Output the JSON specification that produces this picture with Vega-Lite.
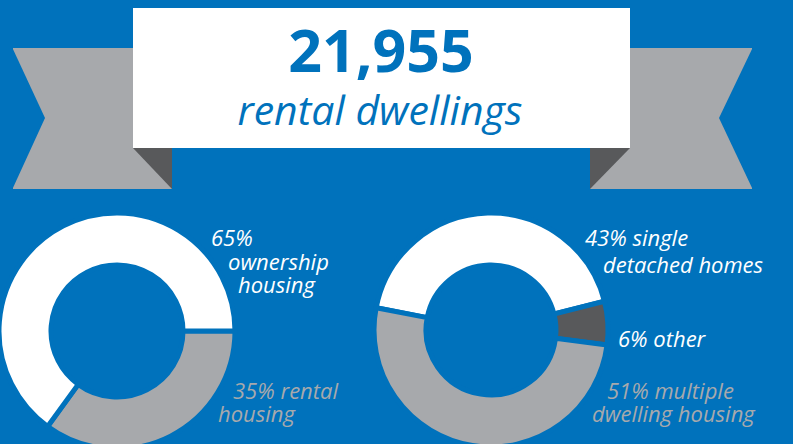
{
  "$schema": "https://vega.github.io/schema/vega-lite/v6.json",
  "width": 793,
  "height": 444,
  "autosize": {"type": "none"},
  "padding": 0,
  "background": "#0072BC",
  "config": {"view": {"stroke": null}, "axis": {"disable": true}},
  "resolve": {"scale": {"theta": "independent", "color": "independent"}},
  "layer": [
    {
      "data": {"values": [
        {"side": "left", "x": 13, "x2": 172, "y": 48, "y2": 189},
        {"side": "right", "x": 590, "x2": 752, "y": 48, "y2": 189}
      ]},
      "mark": {"type": "rect", "color": "#A7A9AC"},
      "encoding": {
        "x": {"field": "x", "type": "quantitative", "scale": {"domain": [0, 793], "nice": false, "zero": false}, "axis": null},
        "x2": {"field": "x2"},
        "y": {"field": "y", "type": "quantitative", "scale": {"domain": [444, 0], "nice": false, "zero": false}, "axis": null},
        "y2": {"field": "y2"}
      }
    },
    {
      "data": {"values": [
        {"shape": "notchL", "x": 12, "y": 47, "y2": 190},
        {"shape": "notchL", "x": 45, "y": 118, "y2": 118},
        {"shape": "notchR", "x": 719, "y": 118, "y2": 118},
        {"shape": "notchR", "x": 753, "y": 47, "y2": 190}
      ]},
      "mark": {"type": "area", "color": "#0072BC", "opacity": 1},
      "encoding": {
        "x": {"field": "x", "type": "quantitative", "scale": {"domain": [0, 793], "nice": false, "zero": false}, "axis": null},
        "y": {"field": "y", "type": "quantitative", "scale": {"domain": [444, 0], "nice": false, "zero": false}, "axis": null},
        "y2": {"field": "y2"},
        "detail": {"field": "shape"}
      }
    },
    {
      "data": {"values": [
        {"shape": "foldL", "x": 133, "y": 148, "y2": 148},
        {"shape": "foldL", "x": 172, "y": 148, "y2": 189},
        {"shape": "foldR", "x": 590, "y": 148, "y2": 189},
        {"shape": "foldR", "x": 630, "y": 148, "y2": 148}
      ]},
      "mark": {"type": "area", "color": "#58595B", "opacity": 1},
      "encoding": {
        "x": {"field": "x", "type": "quantitative", "scale": {"domain": [0, 793], "nice": false, "zero": false}, "axis": null},
        "y": {"field": "y", "type": "quantitative", "scale": {"domain": [444, 0], "nice": false, "zero": false}, "axis": null},
        "y2": {"field": "y2"},
        "detail": {"field": "shape"}
      }
    },
    {
      "data": {"values": [{"x": 133, "x2": 630, "y": 8, "y2": 148}]},
      "mark": {"type": "rect", "color": "#FFFFFF"},
      "encoding": {
        "x": {"field": "x", "type": "quantitative", "scale": {"domain": [0, 793], "nice": false, "zero": false}, "axis": null},
        "x2": {"field": "x2"},
        "y": {"field": "y", "type": "quantitative", "scale": {"domain": [444, 0], "nice": false, "zero": false}, "axis": null},
        "y2": {"field": "y2"}
      }
    },
    {
      "data": {"values": [
        {"segment": "rental housing", "pct": 35, "k": 1},
        {"segment": "ownership housing", "pct": 65, "k": 2}
      ]},
      "mark": {"type": "arc", "outerRadius": 118, "innerRadius": 66, "stroke": "#0072BC", "strokeWidth": 5},
      "encoding": {
        "theta": {"field": "pct", "type": "quantitative", "stack": true, "scale": {"domain": [0, 100], "range": [1.5708, 7.8540]}},
        "order": {"field": "k", "type": "quantitative"},
        "color": {"field": "segment", "type": "nominal", "legend": null, "scale": {"domain": ["rental housing", "ownership housing"], "range": ["#A7A9AC", "#FFFFFF"]}},
        "x": {"datum": 117, "type": "quantitative", "scale": {"domain": [0, 793], "nice": false, "zero": false}, "axis": null},
        "y": {"datum": 331, "type": "quantitative", "scale": {"domain": [444, 0], "nice": false, "zero": false}, "axis": null}
      }
    },
    {
      "data": {"values": [
        {"segment": "single detached homes", "pct": 43, "k": 1},
        {"segment": "other", "pct": 6, "k": 2},
        {"segment": "multiple dwelling housing", "pct": 51, "k": 3}
      ]},
      "mark": {"type": "arc", "outerRadius": 117, "innerRadius": 65, "stroke": "#0072BC", "strokeWidth": 5},
      "encoding": {
        "theta": {"field": "pct", "type": "quantitative", "stack": true, "scale": {"domain": [0, 100], "range": [4.904, 11.187]}},
        "order": {"field": "k", "type": "quantitative"},
        "color": {"field": "segment", "type": "nominal", "legend": null, "scale": {"domain": ["single detached homes", "other", "multiple dwelling housing"], "range": ["#FFFFFF", "#58595B", "#A7A9AC"]}},
        "x": {"datum": 491, "type": "quantitative", "scale": {"domain": [0, 793], "nice": false, "zero": false}, "axis": null},
        "y": {"datum": 330, "type": "quantitative", "scale": {"domain": [444, 0], "nice": false, "zero": false}, "axis": null}
      }
    },
    {
      "data": {"values": [{"label": "21,955"}]},
      "mark": {"type": "text", "font": "Open Sans", "fontWeight": "bold", "fontSize": 59, "color": "#0072BC", "align": "center", "baseline": "alphabetic"},
      "encoding": {"text": {"field": "label"}, "x": {"datum": 381, "type": "quantitative"}, "y": {"datum": 72, "type": "quantitative"}}
    },
    {
      "data": {"values": [{"label": "rental dwellings"}]},
      "mark": {"type": "text", "font": "Open Sans", "fontStyle": "italic", "fontSize": 41, "color": "#0072BC", "align": "center", "baseline": "alphabetic"},
      "encoding": {"text": {"field": "label"}, "x": {"datum": 380, "type": "quantitative"}, "y": {"datum": 125, "type": "quantitative"}}
    },
    {
      "data": {"values": [{"label": "65%"}]},
      "mark": {"type": "text", "font": "Open Sans", "fontStyle": "italic", "fontSize": 22, "color": "#FFFFFF", "align": "left", "baseline": "alphabetic"},
      "encoding": {"text": {"field": "label"}, "x": {"datum": 211, "type": "quantitative"}, "y": {"datum": 246, "type": "quantitative"}}
    },
    {
      "data": {"values": [{"label": "ownership"}]},
      "mark": {"type": "text", "font": "Open Sans", "fontStyle": "italic", "fontSize": 22, "color": "#FFFFFF", "align": "left", "baseline": "alphabetic"},
      "encoding": {"text": {"field": "label"}, "x": {"datum": 228, "type": "quantitative"}, "y": {"datum": 270, "type": "quantitative"}}
    },
    {
      "data": {"values": [{"label": "housing"}]},
      "mark": {"type": "text", "font": "Open Sans", "fontStyle": "italic", "fontSize": 22, "color": "#FFFFFF", "align": "left", "baseline": "alphabetic"},
      "encoding": {"text": {"field": "label"}, "x": {"datum": 238, "type": "quantitative"}, "y": {"datum": 293, "type": "quantitative"}}
    },
    {
      "data": {"values": [{"label": "35% rental"}]},
      "mark": {"type": "text", "font": "Open Sans", "fontStyle": "italic", "fontSize": 22, "color": "#A7A9AC", "align": "left", "baseline": "alphabetic"},
      "encoding": {"text": {"field": "label"}, "x": {"datum": 233, "type": "quantitative"}, "y": {"datum": 399, "type": "quantitative"}}
    },
    {
      "data": {"values": [{"label": "housing"}]},
      "mark": {"type": "text", "font": "Open Sans", "fontStyle": "italic", "fontSize": 22, "color": "#A7A9AC", "align": "left", "baseline": "alphabetic"},
      "encoding": {"text": {"field": "label"}, "x": {"datum": 218, "type": "quantitative"}, "y": {"datum": 422, "type": "quantitative"}}
    },
    {
      "data": {"values": [{"label": "43% single"}]},
      "mark": {"type": "text", "font": "Open Sans", "fontStyle": "italic", "fontSize": 22, "color": "#FFFFFF", "align": "left", "baseline": "alphabetic"},
      "encoding": {"text": {"field": "label"}, "x": {"datum": 585, "type": "quantitative"}, "y": {"datum": 246, "type": "quantitative"}}
    },
    {
      "data": {"values": [{"label": "detached homes"}]},
      "mark": {"type": "text", "font": "Open Sans", "fontStyle": "italic", "fontSize": 22, "color": "#FFFFFF", "align": "left", "baseline": "alphabetic"},
      "encoding": {"text": {"field": "label"}, "x": {"datum": 603, "type": "quantitative"}, "y": {"datum": 273, "type": "quantitative"}}
    },
    {
      "data": {"values": [{"label": "6% other"}]},
      "mark": {"type": "text", "font": "Open Sans", "fontStyle": "italic", "fontSize": 22, "color": "#FFFFFF", "align": "left", "baseline": "alphabetic"},
      "encoding": {"text": {"field": "label"}, "x": {"datum": 618, "type": "quantitative"}, "y": {"datum": 347, "type": "quantitative"}}
    },
    {
      "data": {"values": [{"label": "51% multiple"}]},
      "mark": {"type": "text", "font": "Open Sans", "fontStyle": "italic", "fontSize": 22, "color": "#A7A9AC", "align": "left", "baseline": "alphabetic"},
      "encoding": {"text": {"field": "label"}, "x": {"datum": 607, "type": "quantitative"}, "y": {"datum": 399, "type": "quantitative"}}
    },
    {
      "data": {"values": [{"label": "dwelling housing"}]},
      "mark": {"type": "text", "font": "Open Sans", "fontStyle": "italic", "fontSize": 22, "color": "#A7A9AC", "align": "left", "baseline": "alphabetic"},
      "encoding": {"text": {"field": "label"}, "x": {"datum": 592, "type": "quantitative"}, "y": {"datum": 422, "type": "quantitative"}}
    }
  ]
}
